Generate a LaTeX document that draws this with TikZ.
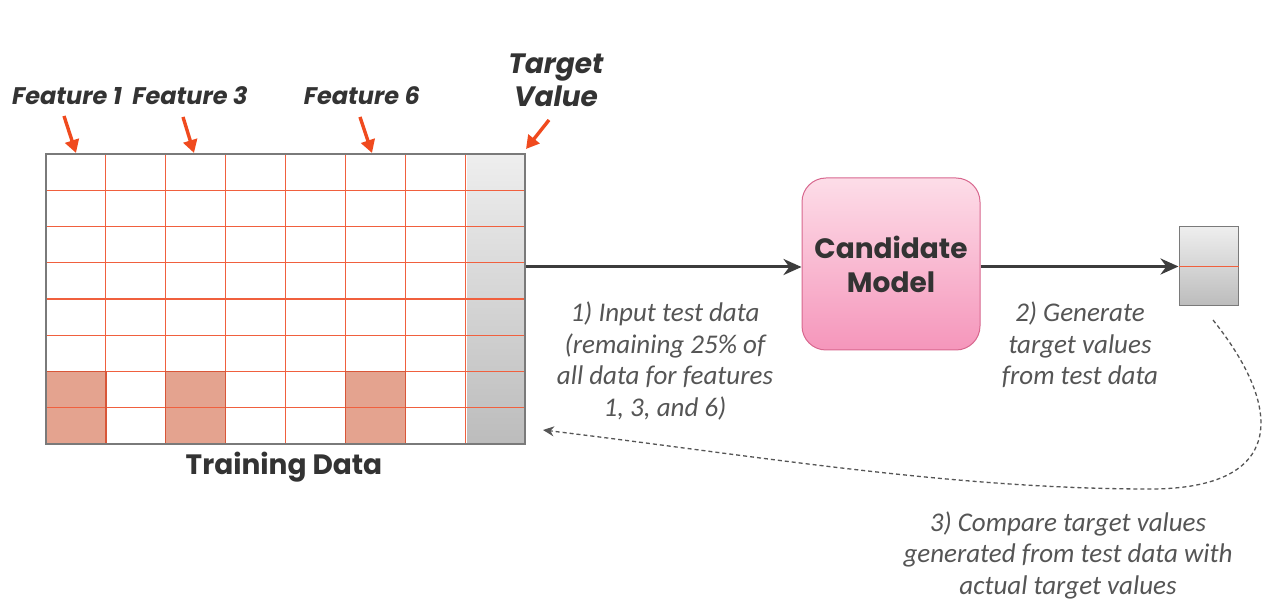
\documentclass[tikz,border=0pt]{standalone}
\usepackage{fontspec}
\setmainfont{Carlito}
\newfontfamily\pop{Poppins}
\usetikzlibrary{arrows.meta,calc,shadows}
\definecolor{gridred}{HTML}{F0603E}
\definecolor{cellfill}{HTML}{E4A38F}
\definecolor{arrred}{HTML}{F04A1E}
\definecolor{darkarr}{HTML}{3C3C3C}
\definecolor{txt}{HTML}{333333}
\definecolor{note}{HTML}{555555}
\definecolor{pinktop}{HTML}{FDDDE8}
\definecolor{pinkbot}{HTML}{F596BB}
\definecolor{pinkline}{HTML}{D8688F}
\definecolor{graytop}{HTML}{EEEEEE}
\definecolor{graybot}{HTML}{BCBCBC}
\definecolor{border}{HTML}{7A7A7A}
\begin{document}
\begin{tikzpicture}[x=1pt,y=-1pt,
  flab/.style={font=\pop\bfseries\itshape\fontsize{24}{24}\selectfont, text=txt, inner sep=0pt},
  redarr/.style={draw=arrred, line width=3.4pt, -{Triangle[length=13pt,width=14pt]}},
  darkarrow/.style={draw=darkarr, line width=3pt, -{Stealth[length=18pt,width=16pt]}},
  notetext/.style={font=\itshape\fontsize{27}{31.5}\selectfont, text=note, align=center, inner sep=0pt},
  dashline/.style={draw=note, line width=1.3pt, dash pattern=on 4pt off 3pt, -{Stealth[length=11pt,width=10pt]}}
]
\useasboundingbox (0,0) rectangle (1278,609);
\fill[white] (0,0) rectangle (1278,609);

% target column
\shade[top color=graytop, bottom color=graybot] (467,154) rectangle (525,444);
% highlighted cells
\foreach \c in {0,2,5}
  \fill[cellfill] ({46+\c*59.875},371.5) rectangle ++(59.875,72.5);
% grid lines
\foreach \i in {1,...,7}
  \draw[gridred, line width=1.2pt] ({46+\i*59.875},154) -- ++(0,290);
\foreach \j in {1,...,7}
  \draw[gridred, line width=1.2pt] (46,{154+\j*36.25}) -- ++(479,0);
\foreach \c in {0,2,5}
  \draw[gridred!90!black, line width=1.4pt] ({46+\c*59.875},371.5) rectangle ++(59.875,72.5);
% outer frame
\node[draw=border, line width=1.3pt, minimum width=479pt, minimum height=290pt, inner sep=0pt] (grid) at (285.5,299) {};

% labels above
\node[flab] (f1) at (67,96) {Feature 1};
\node[flab] (f3) at (190,96) {Feature 3};
\node[flab] (f6) at (362,96) {Feature 6};
\node[font=\pop\bfseries\itshape\fontsize{28}{33}\selectfont, text=txt, align=center, inner sep=0pt] (tv) at (556,80) {Target\\Value};

\coordinate (a1s) at (64,116); \coordinate (a1e) at (76,153);
\coordinate (a3s) at (183,117); \coordinate (a3e) at (194,153);
\coordinate (a6s) at (360,117); \coordinate (a6e) at (372,153);
\coordinate (ats) at (549,120); \coordinate (ate) at (526,149);
\draw[redarr] (a1s) -- (a1e);
\draw[redarr] (a3s) -- (a3e);
\draw[redarr] (a6s) -- (a6e);
\draw[redarr] (ats) -- (ate);

\node[font=\pop\bfseries\fontsize{28}{28}\selectfont, text=txt, inner sep=0pt] (td) at (284,467) {Training Data};

% candidate model
\node[draw=pinkline, line width=1pt, rounded corners=24pt, top color=pinktop, bottom color=pinkbot,
      minimum width=178pt, minimum height=172pt, inner sep=0pt, align=center,
      font=\pop\bfseries\fontsize{28}{34}\selectfont, text=txt] (model) at (891,264) {Candidate\\Model};

% output box
\node[draw=border, line width=1pt, top color=graytop, bottom color=graybot,
      minimum width=59pt, minimum height=79pt, inner sep=0pt] (out) at (1208.5,266.5) {};
\draw[gridred, line width=0.9pt] (out.west) -- (out.east);

\coordinate (in1) at (526,267);
\draw[darkarrow] (in1) -- (in1 -| model.west);
\draw[darkarrow] (model.east |- out.west) -- (out.west);

% notes
\node[notetext] (n1) at (665,361) {1) Input test data\\(remaining 25\% of\\all data for features\\1, 3, and 6)};
\node[notetext] (n2) at (1080,345) {2) Generate\\target values\\from test data};
\node[notetext] (n3) at (1068,555) {3) Compare target values\\generated from test data with\\actual target values};

% dashed return
\coordinate (ds) at (1213,320);
\coordinate (dm) at (1150,489);
\coordinate (de) at (543,430);
\draw[dashline] (ds) .. controls (1285,410) and (1285,489) .. (dm) .. controls (950,489) and (750,455) .. (de);
\end{tikzpicture}
\end{document}
